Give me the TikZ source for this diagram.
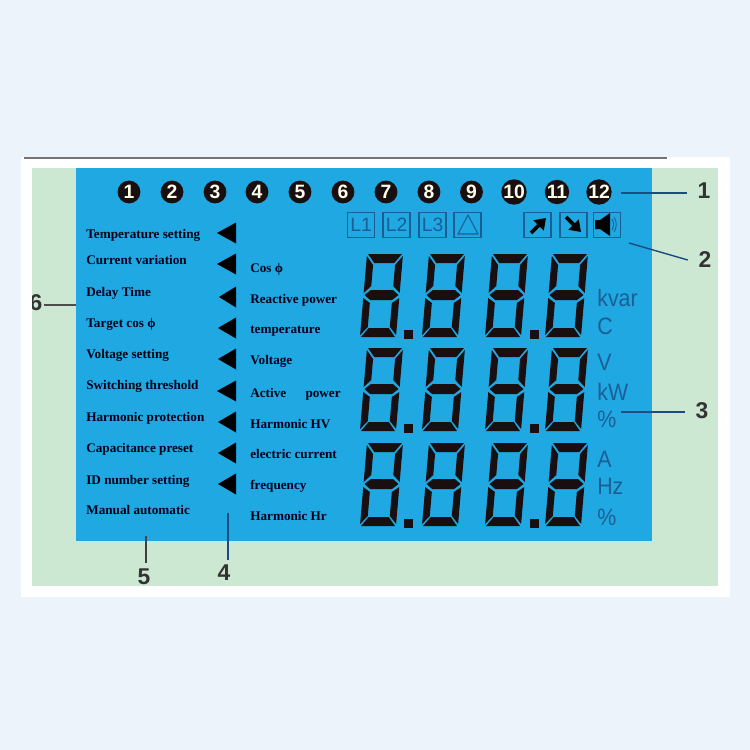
\documentclass[tikz,border=0pt]{standalone}
\usepackage{fontspec}
\setmainfont{Liberation Serif}
\setsansfont{Liberation Sans}
\usetikzlibrary{arrows.meta}
\definecolor{pagebg}{HTML}{EDF3FB}
\definecolor{panelgreen}{HTML}{CDE8D2}
\definecolor{lcdblue}{HTML}{20A8E2}
\definecolor{segdark}{HTML}{1A0F10}
\definecolor{iconblue}{HTML}{1B5E96}
\definecolor{leadblue}{HTML}{1D4A80}
\tikzset{
  leftlab/.style={anchor=base west,inner sep=0pt,text=black!90!blue,font=\rmfamily\bfseries\fontsize{7.5}{9}\selectfont},
  unitlab/.style={anchor=base west,inner sep=0pt,text=iconblue,xscale=.9,font=\sffamily\fontsize{13.5}{15}\selectfont},
  numdot/.style={circle,fill=segdark,text=white!92!yellow,minimum size=13pt,inner sep=0pt,font=\sffamily\bfseries\fontsize{11}{12}\selectfont},
  iconbox/.style={draw=iconblue,line width=.8pt,minimum width=15.5pt,minimum height=14.5pt,inner sep=0pt,text=iconblue,font=\sffamily\fontsize{11}{12}\selectfont},
  calllab/.style={inner xsep=6pt,inner ysep=3pt,text=black!80,font=\sffamily\bfseries\fontsize{13}{14}\selectfont},
  leader/.style={line width=.8pt,draw=leadblue},
  tick/.style={fill=black},
}
\newcommand{\lcddigit}[2]{%
  \begin{scope}[shift={(#1,#2)},xslant=.085]
    \fill[segdark] (1,0) -- (35,0) -- (28,9) -- (8,9) -- cycle;
    \fill[segdark] (0,2) -- (7,11) -- (7,32) -- (0,39) -- cycle;
    \fill[segdark] (36,2) -- (29,11) -- (29,32) -- (36,39) -- cycle;
    \fill[segdark] (1,41) -- (7,36) -- (29,36) -- (35,41) -- (29,46) -- (7,46) -- cycle;
    \fill[segdark] (0,44) -- (7,49) -- (7,73) -- (0,81) -- cycle;
    \fill[segdark] (36,44) -- (29,49) -- (29,73) -- (36,81) -- cycle;
    \fill[segdark] (1,83) -- (35,83) -- (28,74) -- (8,74) -- cycle;
  \end{scope}}
\newcommand{\marker}[2]{\fill[black] (#1,#2) -- (236,#2-10.5) -- (236,#2+10.5) -- cycle;}
\begin{document}
\begin{tikzpicture}[x=.02cm,y=-.02cm]
  \useasboundingbox (0,0) rectangle (750,750);
  \fill[pagebg] (0,0) rectangle (750,750);
  \fill[white] (21,157) rectangle (730,597);
  \draw[black!55,line width=.6pt] (24,158) -- (667,158);
  \fill[panelgreen] (32,168) rectangle (718,586);
  \fill[lcdblue] (76,168) rectangle (652,541);
  % numbered dots
  \node[numdot] (dot1) at (129,192) {1};
  \node[numdot] (dot2) at (172,192) {2};
  \node[numdot] (dot3) at (215,192) {3};
  \node[numdot] (dot4) at (257,192) {4};
  \node[numdot] (dot5) at (300,192) {5};
  \node[numdot] (dot6) at (343,192) {6};
  \node[numdot] (dot7) at (386,192) {7};
  \node[numdot] (dot8) at (429,192) {8};
  \node[numdot] (dot9) at (471.5,192) {9};
  \node[numdot] (dot10) at (514,192) {10};
  \node[numdot] (dot11) at (557,192) {11};
  \node[numdot] (dot12) at (599,192) {12};
  % icon boxes
  \node[iconbox] (boxa) at (361,225) {L1};
  \node[iconbox] (boxb) at (396.5,225) {L2};
  \node[iconbox] (boxc) at (432.5,225) {L3};
  \node[iconbox] (boxd) at (467.5,225) {};
  \node[iconbox] (boxe) at (537.5,225) {};
  \node[iconbox] (boxf) at (573.5,225) {};
  \node[iconbox] (boxg) at (607,225) {};
  \draw[iconblue,line width=.6pt] (468,215) -- (478,234) -- (458,234) -- cycle;
  \draw[black,line width=2.2pt,-{Triangle[length=6pt,width=8pt]}] (531,233) -- (546,218);
  \draw[black,line width=2.2pt,-{Triangle[length=6pt,width=8pt]}] (566,217) -- (581,232);
  \fill[black] (595,220) -- (600,220) -- (610,213) -- (610,236) -- (600,229) -- (595,229) -- cycle;
  \draw[iconblue,line width=.5pt] (612,219) .. controls (614,222) and (614,227) .. (612,230);
  \draw[iconblue,line width=.5pt] (614,217) .. controls (617,221) and (617,228) .. (614,232);
  % menu labels
  \node[leftlab] (set1) at (86,238) {Temperature setting};
  \node[leftlab] (set2) at (86,264) {Current variation};
  \node[leftlab] (set3) at (86,296) {Delay Time};
  \node[leftlab] (set4) at (86,327) {Target cos ϕ};
  \node[leftlab] (set5) at (86,358) {Voltage setting};
  \node[leftlab] (set6) at (86,389) {Switching threshold};
  \node[leftlab] (set7) at (86,421) {Harmonic protection};
  \node[leftlab] (set8) at (86,452) {Capacitance preset};
  \node[leftlab] (set9) at (86,484) {ID number setting};
  \node[leftlab] (set10) at (86,514) {Manual automatic};
  \marker{217}{233}
  \marker{217}{264}
  \marker{219}{297}
  \marker{218}{328}
  \marker{218}{359}
  \marker{217}{391}
  \marker{218}{422}
  \marker{218}{453}
  \marker{218}{484}
  \node[leftlab] (read1) at (250,272) {Cos ϕ};
  \node[leftlab] (read2) at (250,303) {Reactive power};
  \node[leftlab] (read3) at (250,333) {temperature};
  \node[leftlab] (read4) at (250,364) {Voltage};
  \node[leftlab] (read5) at (250,397) {Active\hspace{11pt}power};
  \node[leftlab] (read6) at (250,428) {Harmonic HV};
  \node[leftlab] (read7) at (250,458) {electric current};
  \node[leftlab] (read8) at (250,489) {frequency};
  \node[leftlab] (read9) at (250,520) {Harmonic Hr};
  % digits
  \foreach \rowy in {254,348,443} {
    \foreach \colx in {367,429,492,552} {
      \lcddigit{\colx}{\rowy}
    }
    \fill[segdark] (404,\rowy+76) rectangle (413,\rowy+85);
    \fill[segdark] (530,\rowy+76) rectangle (539,\rowy+85);
  }
  % units
  \node[unitlab] (unit1) at (597,306) {kvar};
  \node[unitlab] (unit2) at (597,334) {C};
  \node[unitlab] (unit3) at (597,370) {V};
  \node[unitlab] (unit4) at (597,400) {kW};
  \node[unitlab] (unit5) at (597,427) {\%};
  \node[unitlab] (unit6) at (597,467) {A};
  \node[unitlab] (unit7) at (597,494) {Hz};
  \node[unitlab] (unit8) at (597,525) {\%};
  % callouts
  \coordinate (tip1) at (621,193);
  \coordinate (tip2) at (629,243);
  \coordinate (tip3) at (621,412);
  \coordinate (tip4) at (228,513);
  \coordinate (tip5) at (146,536);
  \coordinate (tip6) at (76,305);
  \node[calllab] (num1) at (704,191) {1};
  \node[calllab] (num2) at (705,260) {2};
  \node[calllab] (num3) at (702,411) {3};
  \node[calllab] (num4) at (224,573) {4};
  \node[calllab] (num5) at (144,577) {5};
  \begin{scope}
    \clip (32,280) rectangle (60,330);
    \node[calllab,inner xsep=1pt] (num6) at (36,303) {6};
  \end{scope}
  \draw[leader] (tip1) -- (tip1 -| num1.west);
  \draw[leader] (tip2) -- (num2.west);
  \draw[leader] (tip3) -- (tip3 -| num3.west);
  \draw[leader] (tip4) -- (num4.north -| tip4);
  \draw[leader,draw=black!75] (tip5) -- (num5.north -| tip5);
  \draw[leader,draw=black!70] (tip6) -- (tip6 -| num6.east);
\end{tikzpicture}
\end{document}
